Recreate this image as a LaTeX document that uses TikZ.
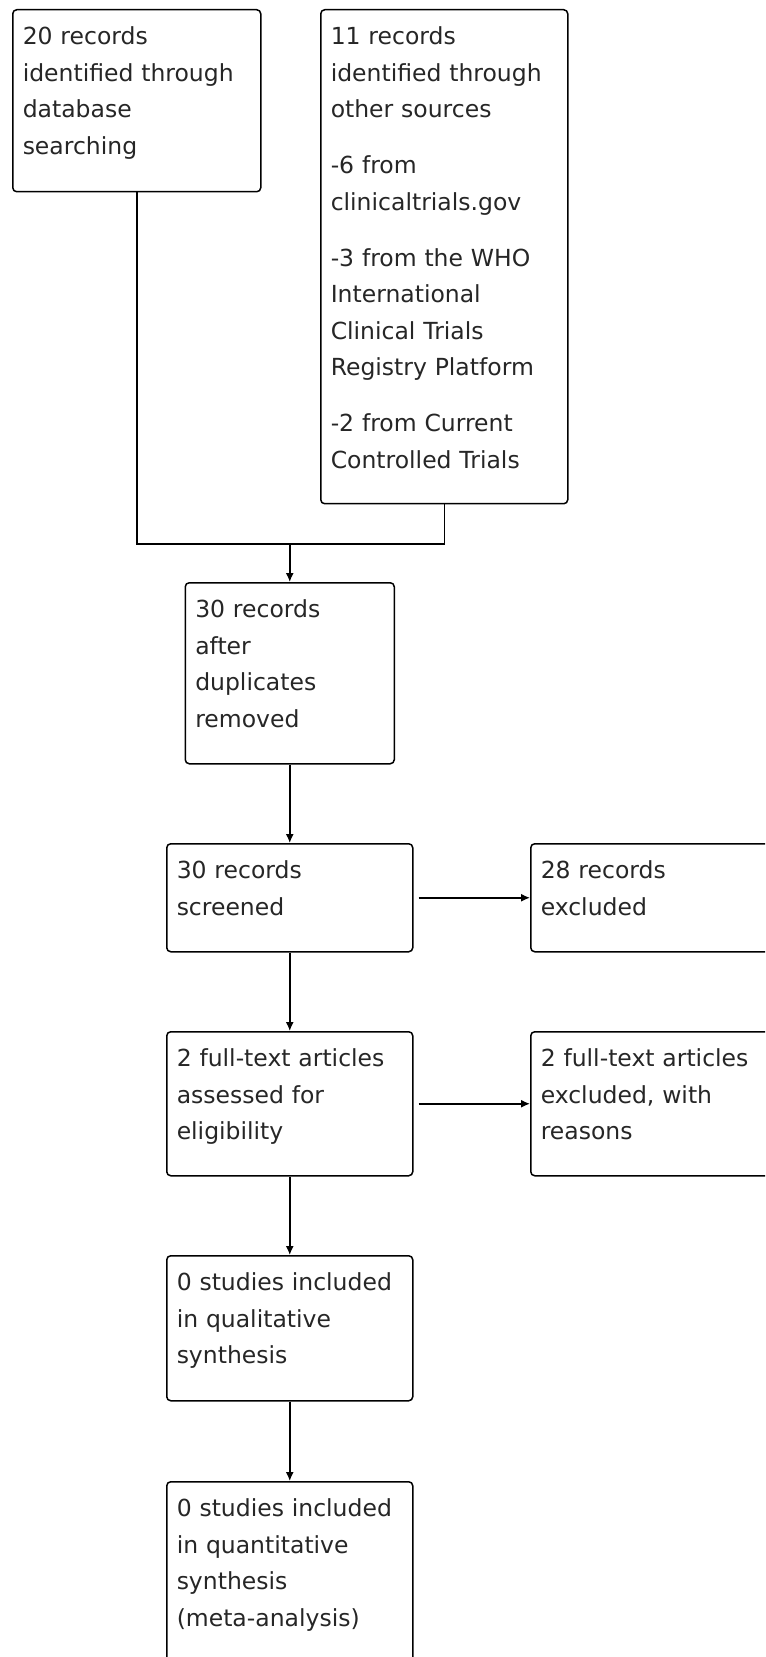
\documentclass[tikz,border=0pt]{standalone}
\usepackage{fontspec}
\setmainfont{DejaVu Sans}
\usetikzlibrary{arrows.meta}

\begin{document}
\begin{tikzpicture}[x=0.5pt, y=-0.5pt,
  font=\fontsize{11.75}{18.25}\selectfont,
  stage/.style={draw, line width=0.75pt, rounded corners=2pt, anchor=north west,
    align=left, inner xsep=5pt, inner ysep=9pt, text height=8.5pt, text depth=#1,
    text=black!85},
  arr/.style={line width=0.75pt, -{Latex[length=4.5pt, width=4pt]}},
  link/.style={line width=0.75pt}]

% Page frame (pixel units, y grows downwards)
\useasboundingbox (0, 0) rectangle (765, 1657);
\clip (0, 0) rectangle (765, 1657);

% Identification
\node[stage=64.5pt, text width=114pt] (db) at (12, 9)
  {20 records\\identified through\\database\\searching};
\node[stage=220.5pt, text width=113.5pt] (other) at (320, 9)
  {11 records\\identified through\\other sources\\[9.75pt]
   -6 from\\clinicaltrials.gov\\[9.75pt]
   -3 from the WHO\\International\\Clinical Trials\\Registry Platform\\[9.75pt]
   -2 from Current\\Controlled Trials};

% Screening
\node[stage=64pt, text width=94.5pt] (dup) at (184.5, 582)
  {30 records\\after\\duplicates\\removed};
\node[stage=27.5pt, text width=113pt] (screen) at (166, 843)
  {30 records\\screened};
\node[stage=27.5pt, text width=112.5pt] (excl) at (530, 843)
  {28 records\\excluded};

% Eligibility
\node[stage=45.5pt, text width=113pt] (full) at (166, 1031)
  {2 full-text articles\\assessed for\\eligibility};
\node[stage=45.5pt, text width=112.5pt] (fullex) at (530, 1031)
  {2 full-text articles\\excluded, with\\reasons};

% Included
\node[stage=46pt, text width=113pt] (qual) at (166, 1255)
  {0 studies included\\in qualitative\\synthesis};
\node[stage=66pt, text width=113pt] (quant) at (166, 1481)
  {0 studies included\\in quantitative\\synthesis\\(meta-analysis)};

% Connectors
\coordinate (join) at (dup.north |- 0, 544);
\draw[link] (db.south) |- (join) -| (other.south);
\draw[arr] (join) -- (dup.north);
\draw[arr] (dup.south) -- (screen.north);
\draw[arr, shorten <=2.5pt] (screen.east) -- (excl.west);
\draw[arr] (screen.south) -- (full.north);
\draw[arr, shorten <=2.5pt] (full.east) -- (fullex.west);
\draw[arr] (full.south) -- (qual.north);
\draw[arr] (qual.south) -- (quant.north);

\end{tikzpicture}
\end{document}
